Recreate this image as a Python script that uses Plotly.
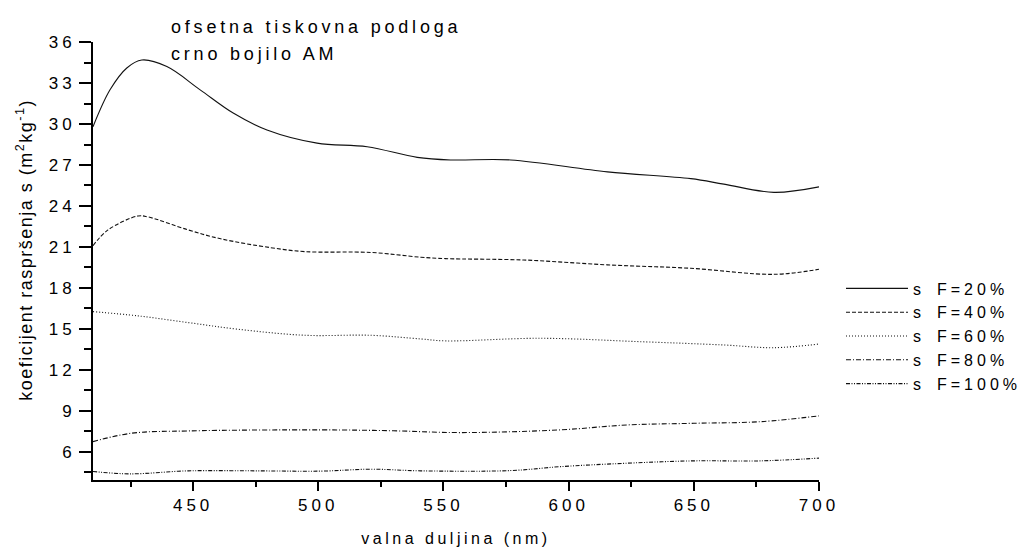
import plotly.graph_objects as go

wl_20 = [410, 416.8, 423.5, 429.5, 439.5, 452.8, 466, 479.5, 499.5, 519.5, 539.5, 552.8, 576.8, 615.5, 648.8, 662, 682, 700]
s_20 = [29.8, 32.5, 34.1, 34.68, 34.2, 32.5, 30.8, 29.56, 28.6, 28.34, 27.56, 27.37, 27.37, 26.5, 26.0, 25.6, 25.0, 25.4]

wl_40 = [410, 416, 428, 432, 448, 461, 481, 494.7, 521, 541, 550.7, 582, 615.5, 648.8, 682, 700]
s_40 = [21.1, 22.25, 23.27, 23.2, 22.25, 21.6, 20.95, 20.66, 20.6, 20.25, 20.15, 20.05, 19.69, 19.44, 19.0, 19.37]

wl_60 = [410, 428, 448, 468, 494.7, 521, 541, 550.7, 588.8, 628.8, 662, 682, 700]
s_60 = [16.27, 15.96, 15.47, 14.98, 14.54, 14.54, 14.27, 14.13, 14.32, 14.07, 13.83, 13.63, 13.9]

wl_80 = [410, 425.3, 448, 501, 530, 556.8, 596.8, 623.5, 650, 676.8, 700]
s_80 = [6.76, 7.37, 7.54, 7.62, 7.55, 7.42, 7.62, 7.98, 8.1, 8.22, 8.64]

wl_100 = [410, 425, 448, 474.7, 501, 521, 541, 576.8, 596.8, 623.5, 650, 676.8, 700]
s_100 = [4.57, 4.40, 4.62, 4.62, 4.6, 4.74, 4.62, 4.64, 4.93, 5.18, 5.35, 5.35, 5.55]

names = ["s\u2002F=20%", "s\u2002F=40%", "s\u2002F=60%", "s\u2002F=80%", "s\u2002F=100%"]
dashes = ["solid", "4px,2px", "1px,2px", "5px,2px,1px,2px", "4px,1.5px,1px,1.5px,1px,1.5px"]
series = [(wl_20, s_20), (wl_40, s_40), (wl_60, s_60), (wl_80, s_80), (wl_100, s_100)]

title_lines = ["ofsetna tiskovna podloga", "crno bojilo AM"]
x_title = "valna duljina (nm)"
y_title = "koeficijent raspršenja s (m<sup>2</sup>kg<sup>-1</sup>)"
x_ticks = [450, 500, 550, 600, 650, 700]
x_minor = [425, 475, 525, 575, 625, 675]
y_ticks = [6, 9, 12, 15, 18, 21, 24, 27, 30, 33, 36]
y_minor = [4.5, 7.5, 10.5, 13.5, 16.5, 19.5, 22.5, 25.5, 28.5, 31.5, 34.5]

FONT = "Liberation Sans, Arial, sans-serif"

# page is offset by the 8px body margin; plot area target: x 93..819, y 42..480 (page px)
L, T, R, B = 85, 34, 1028 - 811, 550 - 472
PW, PH = 726, 438

fig = go.Figure()
for (x, y), nm, d in zip(series, names, dashes):
    fig.add_trace(go.Scatter(x=x, y=y, name=nm, mode="lines",
                             line=dict(color="#111111", width=1.1, dash=d, shape="spline", smoothing=1.0)))

fig.update_layout(
    width=1028, height=550,
    margin=dict(l=L, r=R, t=T, b=B, autoexpand=False),
    paper_bgcolor="white", plot_bgcolor="white",
    font=dict(family=FONT, size=16, color="black"),
    showlegend=True,
    legend=dict(x=(841 - 93) / PW, y=(480 - 336) / PH, xanchor="left", yanchor="middle",
                font=dict(size=16, family=FONT), tracegroupgap=0,
                bgcolor="rgba(0,0,0,0)", itemwidth=62, borderwidth=0),
)
fig.add_annotation(text=title_lines[0], xref="paper", yref="paper", align="left",
                   x=(169 - 93) / PW, y=1 + (42 - 26.5) / PH, xanchor="left", yanchor="middle",
                   showarrow=False, font=dict(size=18, family=FONT))
fig.add_annotation(text=title_lines[1], xref="paper", yref="paper", align="left",
                   x=(169 - 93) / PW, y=1 + (42 - 54) / PH, xanchor="left", yanchor="middle",
                   showarrow=False, font=dict(size=18, family=FONT))
fig.add_annotation(text=y_title, xref="paper", yref="paper", textangle=-90,
                   x=(24 - 93) / PW, y=(480 - 250) / PH, xanchor="center", yanchor="middle",
                   showarrow=False, font=dict(size=18, family=FONT), name="ytitle")

fig.update_xaxes(range=[410, 700], tickvals=x_ticks,
                 ticks="outside", ticklen=9, tickwidth=2, tickcolor="black",
                 showline=True, linecolor="black", linewidth=2, showgrid=False, zeroline=False,
                 minor=dict(tickvals=x_minor, ticks="outside", ticklen=5, tickwidth=2, tickcolor="black"),
                 title=dict(text=x_title, font=dict(size=16), standoff=18),
                 tickfont=dict(size=17), automargin=False)
fig.update_yaxes(range=[3.95, 36], tickvals=y_ticks,
                 ticks="outside", ticklen=12, tickwidth=2, tickcolor="black",
                 showline=True, linecolor="black", linewidth=2, showgrid=False, zeroline=False,
                 minor=dict(tickvals=y_minor, ticks="outside", ticklen=7, tickwidth=2, tickcolor="black"),
                 tickfont=dict(size=17), automargin=False)

post = """
(function(){
  function sp(sel, v){ document.querySelectorAll(sel).forEach(function(t){ t.style.letterSpacing = v; }); }
  sp('.xtick text, .ytick text', '4px');
  sp('.annotation-text', '3.8px');
  var anns = document.querySelectorAll('.annotation-text');
  if (anns.length > 2) { anns[2].style.letterSpacing = '1.5px'; }
  sp('.legendtext', '4px');
  sp('.g-xtitle text', '3.5px');
  document.querySelectorAll('.legend [clip-path], .legend').forEach(function(e){ e.removeAttribute('clip-path'); });
  document.querySelectorAll('.annotation [clip-path]').forEach(function(e){ e.removeAttribute('clip-path'); });
})();
"""
fig.write_html("out.html", post_script=post)
